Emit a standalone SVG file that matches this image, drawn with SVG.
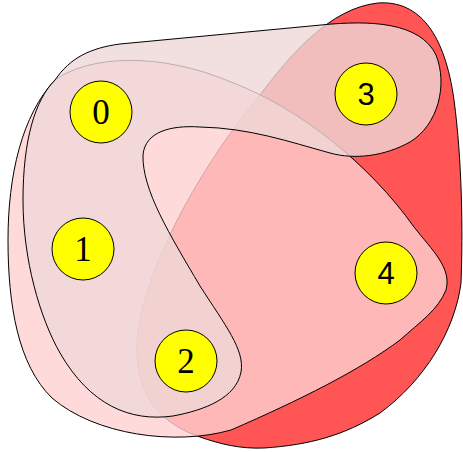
<svg xmlns="http://www.w3.org/2000/svg" width="463" height="452" viewBox="0 0 463 452">
<style>
.set{stroke:#000;stroke-width:1}
.node circle{fill:#ffff00;stroke:#000;stroke-width:1}
.serif{font-family:"Liberation Serif","Times New Roman",serif;font-size:35px;text-anchor:middle;fill:#000}
.sans{font-family:"Liberation Sans",Arial,sans-serif;font-size:31px;text-anchor:middle;fill:#000}
</style>
<g id="sets">
<path id="setR" class="set" fill="#ff5555" d="M200,437 C150,420 128,380 140,320 C152,255 205,160 260,95 C290,55 330,8 378,3 C420,0 445,35 454,100 C462,160 463,230 461,283 C455,330 425,380 380,413 C345,435 310,445 264,448 C240,449 220,444 200,437 Z"/>
<path id="setB" class="set" fill="#ffd1d1" fill-opacity="0.8" d="M55,80 C90,55 160,52 231,82 C300,108 370,165 414,227 C432,250 452,268 446,290 C438,310 420,322 400,340 C360,370 300,400 231,430 C175,446 95,435 52,398 C18,365 8,305 8,240 C8,175 22,115 55,80 Z"/>
<path id="setC" class="set" fill="#efd7d7" fill-opacity="0.8" d="M55,80 C70,58 90,48 120,44 L321,25 C370,20 420,22 436,55 C448,85 438,125 410,142 C385,156 355,160 330,153 C290,142 250,128 200,127 C170,125 145,132 143,155 C142,190 170,235 200,286 C225,325 245,350 241,372 C236,398 205,410 173,416 C130,422 90,405 60,353 C40,318 23,260 23,200 C23,140 35,100 55,80 Z"/>
</g>
<g id="connectors"></g>
<g id="n0" class="node"><circle cx="101" cy="112" r="31"/><text class="serif" x="101" y="124">0</text></g>
<g id="n1" class="node"><circle cx="83" cy="249" r="31"/><text class="serif" x="83" y="261">1</text></g>
<g id="n2" class="node"><circle cx="186" cy="361" r="31"/><text class="serif" x="186" y="373">2</text></g>
<g id="n3" class="node"><circle cx="366" cy="94" r="31"/><text class="sans" x="366" y="105">3</text></g>
<g id="n4" class="node"><circle cx="386" cy="273" r="31"/><text class="sans" x="386" y="284">4</text></g>
</svg>
